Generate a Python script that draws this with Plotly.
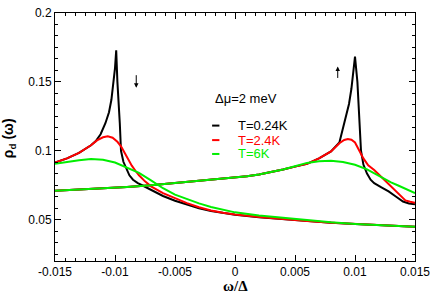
import plotly.graph_objects as go

# ---------------- data ----------------
temps = ["T=0.24K", "T=2.4K", "T=6K"]
colors = ["#000000", "#ff0000", "#00ee00"]

# spin-down curves (peak near omega/Delta = -0.01)
dn_x_black = [-0.015, -0.014, -0.013, -0.012, -0.0116, -0.0112, -0.0108, -0.0105, -0.0103, -0.0101,
              -0.0100, -0.0099, -0.0098, -0.0096, -0.0095, -0.0093, -0.0090, -0.0088, -0.0085, -0.0081,
              -0.0077, -0.007, -0.006, -0.005, -0.004, -0.003, -0.002, -0.001, 0.0, 0.002, 0.004, 0.006,
              0.008, 0.010, 0.012, 0.015]
dn_y_black = [0.0915, 0.0945, 0.0985, 0.1040, 0.1070, 0.1120, 0.1200, 0.1280, 0.1370, 0.1500,
              0.1600, 0.1730, 0.150, 0.120, 0.100, 0.092, 0.0855, 0.0822, 0.0790, 0.0765,
              0.0748, 0.0715, 0.0672, 0.0637, 0.0608, 0.0583, 0.0563, 0.0548, 0.0536, 0.0518, 0.0503, 0.0490,
              0.0478, 0.0468, 0.0459, 0.0448]

dn_x_red = [-0.015, -0.014, -0.013, -0.012, -0.0115, -0.011, -0.0106, -0.0102, -0.0098, -0.0095,
            -0.0092, -0.0089, -0.0086, -0.0083, -0.008, -0.0075, -0.007, -0.006, -0.005, -0.004,
            -0.003, -0.002, -0.001, 0.0, 0.002, 0.004, 0.006, 0.008, 0.010, 0.012, 0.015]
dn_y_red = [0.0915, 0.0945, 0.0985, 0.1040, 0.1075, 0.1098, 0.1105, 0.1095, 0.1065, 0.1032,
            0.0985, 0.0935, 0.0892, 0.0855, 0.0822, 0.0778, 0.0742, 0.0693, 0.0655, 0.0620,
            0.0590, 0.0567, 0.0550, 0.0537, 0.0519, 0.0503, 0.0490, 0.0478, 0.0468, 0.0459, 0.0448]

dn_x_green = [-0.015, -0.014, -0.013, -0.012, -0.0115, -0.011, -0.010, -0.009, -0.008, -0.007,
              -0.006, -0.005, -0.004, -0.003, -0.002, -0.001, 0.0, 0.002, 0.004, 0.006, 0.008,
              0.010, 0.012, 0.015]
dn_y_green = [0.0905, 0.0920, 0.0932, 0.0940, 0.0940, 0.0935, 0.0915, 0.0880, 0.0840, 0.0785,
              0.0728, 0.0682, 0.0648, 0.0618, 0.0592, 0.0570, 0.0553, 0.0530, 0.0512, 0.0496, 0.0481,
              0.0469, 0.0460, 0.0448]

# spin-up curves (peak near omega/Delta = +0.01)
up_x_black = [-0.015, -0.013, -0.011, -0.009, -0.007, -0.005, -0.003, -0.001, 0.0, 0.001, 0.002,
              0.003, 0.004, 0.005, 0.006, 0.007, 0.008, 0.0087, 0.0090, 0.0093, 0.0095, 0.0097,
              0.0099, 0.0100, 0.0102, 0.0104, 0.0105, 0.0107, 0.0110, 0.0113, 0.0116, 0.0122,
              0.0128, 0.0134, 0.0140, 0.0145, 0.015]
up_y_black = [0.0710, 0.0718, 0.0727, 0.0738, 0.0750, 0.0765, 0.0783, 0.0796, 0.0804, 0.0815, 0.0828,
              0.0845, 0.0864, 0.0885, 0.0905, 0.0945, 0.0995, 0.1060, 0.117, 0.126, 0.134, 0.145,
              0.158, 0.1683, 0.150, 0.120, 0.100, 0.090, 0.0835, 0.0790, 0.0765, 0.0735,
              0.0705, 0.0668, 0.0632, 0.0618, 0.0611]

up_x_red = [-0.015, -0.013, -0.011, -0.009, -0.007, -0.005, -0.003, -0.001, 0.0, 0.001, 0.002,
            0.003, 0.004, 0.005, 0.006, 0.007, 0.008, 0.0087, 0.0091, 0.0094, 0.0097, 0.0100,
            0.0103, 0.0107, 0.0111, 0.0116, 0.0122, 0.0128, 0.0134, 0.0142, 0.0146, 0.015]
up_y_red = [0.0710, 0.0718, 0.0727, 0.0738, 0.0750, 0.0765, 0.0783, 0.0796, 0.0804, 0.0815, 0.0828,
            0.0845, 0.0864, 0.0885, 0.0905, 0.0945, 0.0995, 0.1055, 0.1078, 0.1086, 0.1080, 0.1060,
            0.1010, 0.0945, 0.0895, 0.0860, 0.0810, 0.0758, 0.0712, 0.0640, 0.0630, 0.0622]

up_x_green = [-0.015, -0.013, -0.011, -0.009, -0.007, -0.005, -0.003, -0.001, 0.0, 0.001, 0.002,
              0.003, 0.004, 0.005, 0.006, 0.007, 0.008, 0.009, 0.010, 0.011, 0.012, 0.013,
              0.0136, 0.014, 0.015]
up_y_green = [0.0710, 0.0718, 0.0727, 0.0738, 0.0750, 0.0765, 0.0783, 0.0796, 0.0804, 0.0815, 0.0828,
              0.0845, 0.0864, 0.0888, 0.0912, 0.0924, 0.0928, 0.0918, 0.0898, 0.0865, 0.0815, 0.0770,
              0.0748, 0.0732, 0.0692]

x_tick_vals = [-0.015, -0.01, -0.005, 0, 0.005, 0.01, 0.015]
x_tick_text = ["-0.015", "-0.01", "-0.005", "0", "0.005", "0.01", "0.015"]
y_tick_vals = [0.05, 0.1, 0.15, 0.2]
y_tick_text = ["0.05", "0.1", "0.15", "0.2"]

# ---------------- figure ----------------
FONT = "Liberation Sans, Arial, sans-serif"
fig = go.Figure()

series = [
    (dn_x_black, dn_y_black, up_x_black, up_y_black),
    (dn_x_red, dn_y_red, up_x_red, up_y_red),
    (dn_x_green, dn_y_green, up_x_green, up_y_green),
]
for (dx, dy, ux, uy), name, col in zip(series, temps, colors):
    fig.add_trace(go.Scatter(x=dx, y=dy, mode="lines", name=name,
                             line=dict(color=col, width=2), showlegend=False))
    fig.add_trace(go.Scatter(x=ux, y=uy, mode="lines", name=name,
                             line=dict(color=col, width=2), showlegend=False))

axis_common = dict(showline=True, linecolor="black", linewidth=1, mirror="allticks",
                   ticks="inside", ticklen=6, tickwidth=1, tickcolor="black",
                   showgrid=False, zeroline=False,
                   tickfont=dict(family=FONT, size=12, color="black"))

fig.update_xaxes(range=[-0.015, 0.015], tickvals=x_tick_vals, ticktext=x_tick_text,
                 minor=dict(ticks="inside", ticklen=3, tickcolor="black", dtick=0.005 / 6, tick0=0),
                 **axis_common)
fig.update_yaxes(range=[0.02, 0.2], tickvals=y_tick_vals, ticktext=y_tick_text,
                 minor=dict(ticks="inside", ticklen=3, tickcolor="black", dtick=0.05 / 6, tick0=0.05),
                 **axis_common)

# legend drawn by hand (short line samples, coloured labels)
leg_y = [0.546, 0.4875, 0.4316]
shapes = []
annots = []
for name, col, yy in zip(temps, colors, leg_y):
    shapes.append(dict(type="line", xref="paper", yref="paper", x0=0.4364, x1=0.4567,
                       y0=yy, y1=yy, line=dict(color=col, width=2)))
    annots.append(dict(xref="paper", yref="paper", x=0.5014, y=yy, xanchor="left", yanchor="middle",
                       text=name, showarrow=False, font=dict(family=FONT, size=13, color=col)))
annots.append(dict(xref="paper", yref="paper", x=0.4384, y=0.6543, xanchor="left", yanchor="middle",
                   text="Δμ=2 meV", showarrow=False, font=dict(family=FONT, size=13, color="black")))

# axis titles
annots.append(dict(xref="paper", yref="paper", x=0.501, y=-0.10, xanchor="center", yanchor="middle",
                   text="<b>ω/Δ</b>", showarrow=False,
                   font=dict(family="Liberation Serif, serif", size=15, color="black")))
annots.append(dict(xref="paper", yref="paper", x=-0.126, y=0.494, xanchor="center", yanchor="middle",
                   text="<b>ρ<sub>d</sub> (ω)</b>", textangle=-90, showarrow=False,
                   font=dict(family=FONT, size=14, color="black")))

# spin arrows (down arrow near the lower peak, up arrow near the upper peak)
annots.append(dict(x=-0.00823, y=0.1458, xref="x", yref="y", ax=0, ay=-14, text="",
                   showarrow=True, arrowhead=2, arrowsize=0.9, arrowwidth=1, arrowcolor="black"))
annots.append(dict(x=0.00856, y=0.1612, xref="x", yref="y", ax=0, ay=13, text="",
                   showarrow=True, arrowhead=2, arrowsize=0.9, arrowwidth=1, arrowcolor="black"))

fig.update_layout(width=436, height=295, margin=dict(l=55, r=16, t=6, b=34),
                  paper_bgcolor="white", plot_bgcolor="white", showlegend=False,
                  shapes=shapes, annotations=annots)

fig.write_html("out.html", config={"displayModeBar": False},
               post_script="document.body.style.margin='0px';document.body.style.padding='0px';")
